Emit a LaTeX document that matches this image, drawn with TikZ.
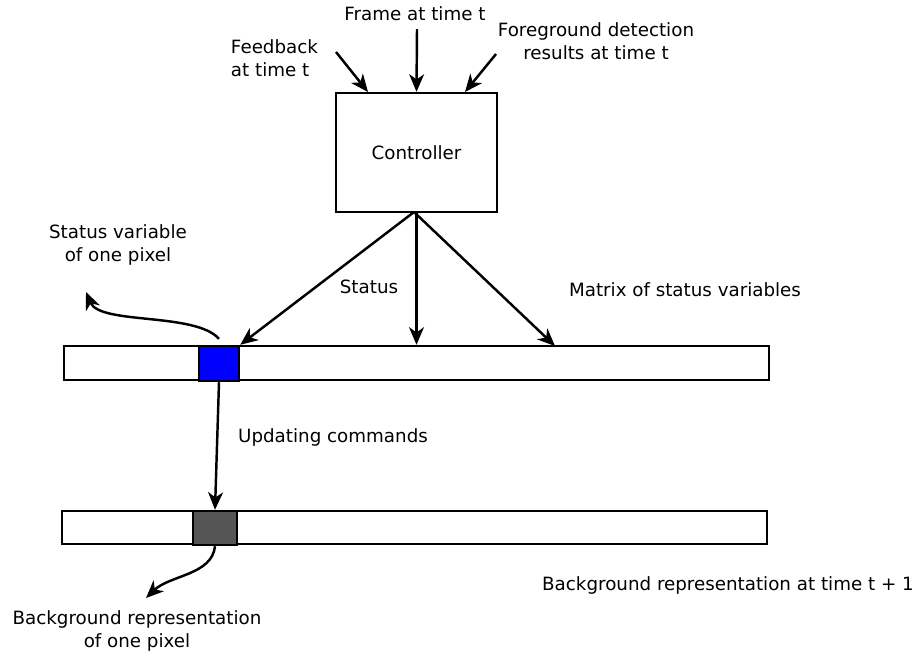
\documentclass[tikz,border=0pt]{standalone}
\usepackage{fontspec}
\setmainfont{DejaVu Sans}
\usetikzlibrary{arrows.meta, positioning}

\tikzset{
  arr/.style={-{Stealth[length=10pt, width=8.5pt, inset=3pt]}, line width=1.4pt},
  box/.style={draw, line width=1.4pt, fill=white, inner sep=0pt},
  lbl/.style={align=center, inner sep=1pt},
}

\begin{document}
\begin{tikzpicture}[x=0.02cm, y=-0.02cm, font=\fontsize{10.4}{13}\selectfont]
    \useasboundingbox (0,0) rectangle (918,654);

    % Controller and its three inputs
    \node[box, minimum width=3.22cm, minimum height=2.38cm] (ctrl) at (416.5,152.5) {Controller};
    \node[lbl] (frame) at (415,14) {Frame at time t};
    \node[lbl, align=left] (feed) at (274.5,58) {Feedback\\at time t};
    \node[lbl] (fg) at (596,41) {Foreground detection\\results at time t};
    \coordinate (feedS) at (336,52);
    \coordinate (fgS) at (496,54);
    \draw[arr] (417,29) -- (ctrl.north);
    \draw[arr] (feedS) -- (368,92);
    \draw[arr] (fgS) -- (465,92);

    % Matrix of status variables
    \node[box, minimum width=14.1cm, minimum height=0.68cm] (stat) at (416.5,363) {};
    \node[box, fill=blue, minimum width=0.8cm, minimum height=0.7cm] (cell) at (219,363.5) {};
    \coordinate (statR) at (555,346);
    \coordinate (ctrlS) at (414,212);
    \draw[arr] (ctrlS) -- (cell.north east);
    \draw[arr] (ctrlS -| stat.north) -- (stat.north);
    \draw[arr] (ctrlS) -- (statR);
    \node[lbl] (status) at (369,287) {Status};
    \node[lbl] (matrix) at (685,290) {Matrix of status variables};

    % one status variable
    \node[lbl] (svar) at (118,245) {Status variable\\of one pixel};
    \coordinate (svtip) at (86,292);
    \draw[arr] ([yshift=0.12cm]cell.north) .. controls (195,312) and (100,325) .. (svtip);

    % Background representation
    \node[box, minimum width=14.1cm, minimum height=0.66cm] (bg) at (414.5,527.5) {};
    \node[box, fill={rgb,255:red,85;green,85;blue,85}, minimum width=0.88cm, minimum height=0.68cm] (gcell) at (215,528) {};
    \draw[arr] (cell.south) -- (gcell.north);
    \node[lbl] (upd) at (333,437) {Updating commands};
    \node[lbl] (bgtime) at (728,585) {Background representation at time t + 1};

    % one background pixel
    \node[lbl] (bgpix) at (137,631) {Background representation\\of one pixel};
    \coordinate (bgtip) at (146,598);
    \draw[arr] (gcell.south) .. controls (212,575) and (170,575) .. (bgtip);
\end{tikzpicture}
\end{document}
